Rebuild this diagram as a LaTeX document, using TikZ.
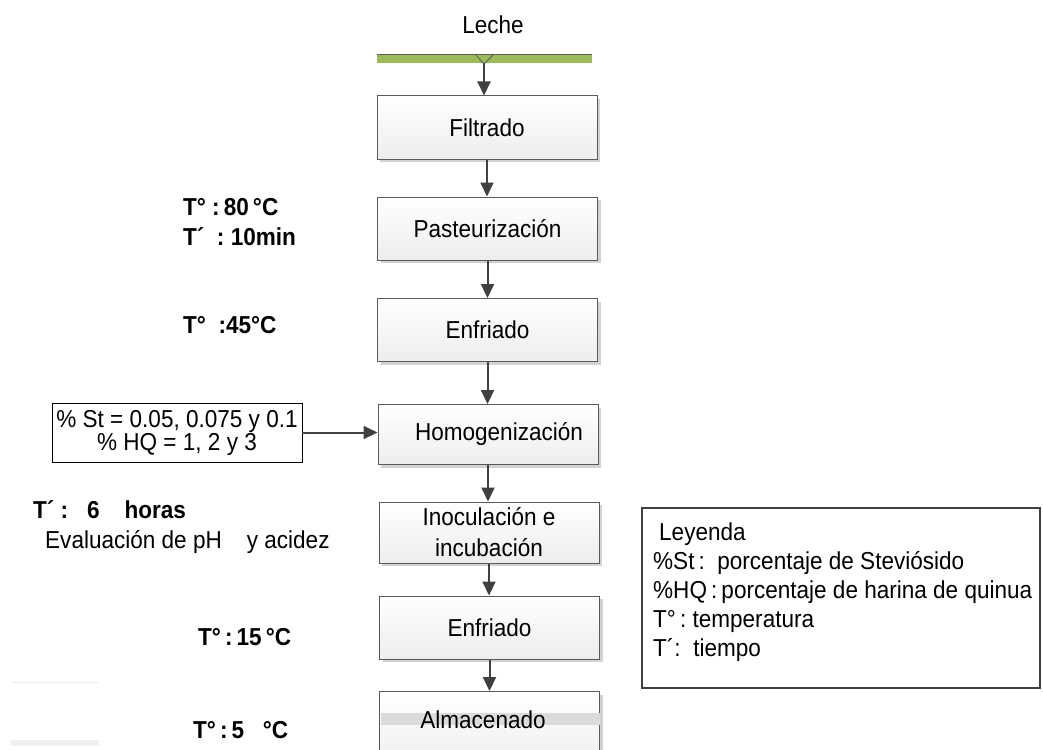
\documentclass[tikz,border=0pt]{standalone}
\usepackage{fontspec}
\setmainfont{Liberation Sans}[FakeStretch=0.92]
\usetikzlibrary{arrows.meta,shadows}
\definecolor{barg}{HTML}{9BBB59}
\definecolor{edgec}{HTML}{5A5A5A}
\definecolor{arrc}{HTML}{404040}
\begin{document}
\begin{tikzpicture}[x=1pt,y=-1pt,
  every node/.style={font=\fontsize{24.5}{26}\selectfont, inner sep=0pt},
  procbox/.style={draw=edgec, line width=1pt, top color=white, bottom color=gray!14,
    minimum width=220pt, minimum height=63pt, align=center,
    general shadow={fill=gray!35, shadow xshift=3pt, shadow yshift=-3pt}},
  flow/.style={draw=arrc, line width=2pt, -{Triangle[length=14pt,width=13pt]}},
  cond/.style={font=\fontsize{24.5}{26}\selectfont\bfseries, anchor=west},
  legtext/.style={anchor=west},
  ]
\useasboundingbox (0,0) rectangle (1043,749);
\clip (0,0) rectangle (1043,749);

% source bar
\node (leche) at (493,25) {Leche};
\fill[barg] (377,55) rectangle (592,63);
\draw[edgec, line width=1pt] (377,55) -- (592,55);
\draw[edgec, line width=0.8pt] (476,55) -- (484,64) -- (493,55);
\coordinate (src) at (484,63);

% process boxes
\node[procbox] (filt) at (487,127.5) {Filtrado};
\node[procbox] (past) at (487.5,228.5) {Pasteurización};
\node[procbox] (enf1) at (487.5,330) {Enfriado};
\node[procbox, minimum height=60pt] (homo) at (488,434.5) {\hspace*{22pt}Homogenización};
\node[procbox, minimum height=61pt, font=\fontsize{24.5}{31}\selectfont] (inoc) at (489,532.5) {Inoculación e\\incubación};
\node[procbox] (enf2) at (489.5,627.5) {Enfriado};
\node[procbox, minimum height=80pt, anchor=north] (alm) at (489.5,691) {};
\fill[gray!28] (381,713) rectangle (600,725);
\node (almt) at (483,720) {Almacenado};

% flow arrows
\draw[flow] (src) -- (src |- filt.north);
\draw[flow] (filt.south) -- (filt.south |- past.north);
\draw[flow] (past.south) -- (past.south |- enf1.north);
\draw[flow] (enf1.south) -- (enf1.south |- homo.north);
\draw[flow] (homo.south) -- (homo.south |- inoc.north);
\draw[flow] (inoc.south) -- (inoc.south |- enf2.north);
\draw[flow] (enf2.south) -- (enf2.south |- alm.north);

% input box
\node[draw=black, line width=0.8pt, minimum width=250pt, minimum height=59pt, align=center,
  font=\fontsize{24.5}{23}\selectfont] (dose) at (177,432.5)
  {\% St = 0.05, 0.075 y 0.1\\\% HQ = 1, 2 y 3};
\draw[flow] (dose.east) -- (dose.east -| homo.west);

% conditions
\node[cond] (c1) at (183,207) {T°\ :\,80\,°C};
\node[cond] (c2) at (183,237) {T´\ \ :\ 10min};
\node[cond] (c3) at (183,325) {T°\ \ :45°C};
\node[cond] (c4) at (33,510) {T´\ :\ \ \ 6\ \ \ \ horas};
\node[anchor=west] (c5) at (45,542) {Evaluación de pH\ \ \ \ y acidez};
\node[cond] (c6) at (198,637) {T°\,:\,15\,°C};
\node[cond] (c7) at (193,730) {T°\,:\,5\ \ \ °C};

% faint marks
\draw[gray!15, line width=1pt] (11,682) -- (99,682);
\fill[gray!12] (11,740) rectangle (99,746);

% legend
\node[draw=arrc, line width=2pt, minimum width=398pt, minimum height=180pt] (leg) at (841,598) {};
\node[legtext] (leg0) at (659,534) {Leyenda};
\node[legtext] (leg1) at (653,563) {\%St\,:\ \ porcentaje de Steviósido};
\node[legtext] (leg2) at (653,592) {\%HQ\,:\,porcentaje de harina de quinua};
\node[legtext] (leg3) at (653,621) {T°\,:\ temperatura};
\node[legtext] (leg4) at (653,650) {T´:\ \ tiempo};
\end{tikzpicture}
\end{document}
